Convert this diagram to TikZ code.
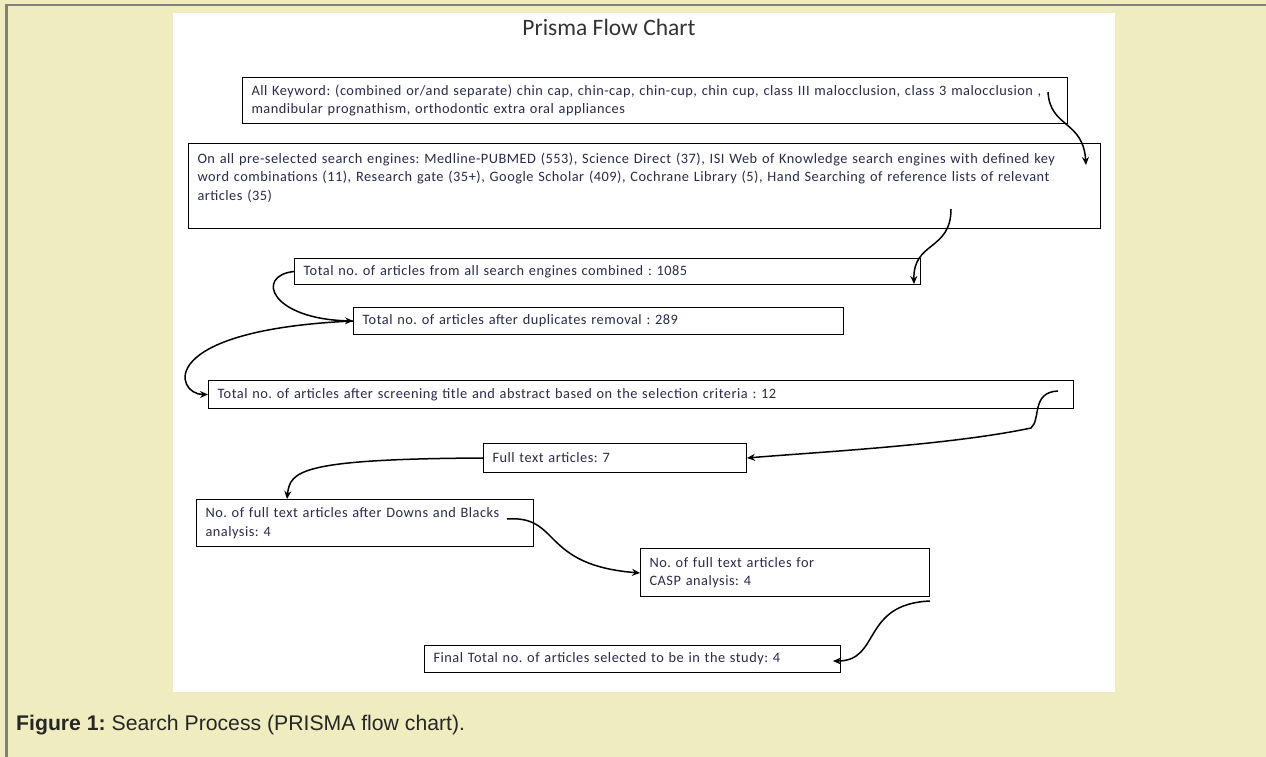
\documentclass[tikz,border=0pt]{standalone}
\usepackage{fontspec}
\setmainfont{Carlito}
\newfontfamily\boxfont{Carlito}[LetterSpace=3.5]
\newfontfamily\capfont{Liberation Sans}
\usetikzlibrary{arrows.meta}
\definecolor{bgbeige}{RGB}{239,237,192}
\definecolor{frameGray}{RGB}{128,128,120}
\definecolor{txtc}{RGB}{40,44,72}
\frenchspacing
\begin{document}
\begin{tikzpicture}[x=1pt,y=-1pt,
  box/.style={draw=black, line width=1pt, anchor=north west, align=left,
    inner xsep=9pt, inner ysep=0pt, font=\boxfont\fontsize{14.35}{18.5}\selectfont, text=txtc},
  arr/.style={line width=1.5pt, -{Stealth[length=8pt,width=7pt]}}]
\fill[bgbeige] (0,0) rectangle (1266,757);
\useasboundingbox (0,0) rectangle (1266,757);
\fill[frameGray] (5,4) rectangle (1266,6.5);
\fill[frameGray] (5,4) rectangle (7.5,757);
\fill[white] (173,13) rectangle (1115,692);

\node[font=\fontsize{23.5}{28}\selectfont, text=black!80] (title) at (609,27) {Prisma Flow Chart};

\node[box, minimum width=825pt, minimum height=46pt, text width=807pt] (b1) at (242,77)
 {All Keyword: (combined or/and separate) chin cap, chin-cap, chin-cup, chin cup, class III malocclusion, class 3 malocclusion ,\\
  mandibular prognathism, orthodontic extra oral appliances};
\node[box, minimum width=912pt, minimum height=85pt, text width=894pt] (b2) at (188,143)
 {On all pre-selected search engines: Medline-PUBMED (553), Science Direct (37), ISI Web of Knowledge search engines with defined key\\
  word combinations (11), Research gate (35+), Google Scholar (409), Cochrane Library (5), Hand Searching of reference lists of relevant\\
  articles (35)\\ \mbox{}};
\node[box, minimum width=626pt, minimum height=26pt, text width=608pt] (b3) at (294,258)
 {Total no. of articles from all search engines combined : 1085};
\node[box, minimum width=490pt, minimum height=27pt, text width=472pt] (b4) at (353,307)
 {Total no. of articles after duplicates removal : 289};
\node[box, minimum width=865pt, minimum height=28pt, text width=847pt] (b5) at (208,380)
 {Total no. of articles after screening title and abstract based on the selection criteria : 12};
\node[box, minimum width=263pt, minimum height=29pt, text width=245pt] (b6) at (483,443)
 {Full text articles: 7};
\node[box, minimum width=337pt, minimum height=47pt, text width=319pt] (b7) at (196,499)
 {No. of full text articles after Downs and Blacks\\analysis: 4};
\node[box, minimum width=289pt, minimum height=48pt, text width=271pt] (b8) at (640,548)
 {No. of full text articles for\\CASP analysis: 4};
\node[box, minimum width=416pt, minimum height=27pt, text width=398pt] (b9) at (424,645)
 {Final Total no. of articles selected to be in the study: 4};

\coordinate (s1) at ([shift={(-20,15)}]b1.north east);
\coordinate (e1) at ([shift={(-15,22)}]b2.north east);
\coordinate (s2) at ([shift={(-150,-20)}]b2.south east);
\coordinate (e2) at ([shift={(-7,-1)}]b3.south east);
\coordinate (s5) at ([shift={(-16,11)}]b5.north east);
\coordinate (s7) at ([shift={(-27,20)}]b7.north east);
\coordinate (e7) at ([shift={(0,25)}]b8.north west);
\coordinate (s8) at ([shift={(0,4)}]b8.south east);
\coordinate (e8) at ([shift={(-8,2)}]b9.east);

\draw[arr] (s1) .. controls ++(2,36) and ++(-3,-45) .. (e1);
\draw[arr] (s2) .. controls ++(0,42) and ++(-1,-43) .. (e2);
\draw[arr] (b3.west) .. controls ++(-39,4) and ++(-83,-2) .. (b4.west);
\draw[arr] (b4.west) .. controls ++(-200,9) and ++(-33,0) .. (b5.west);
\draw[arr] (s5) .. controls ++(-27,1) and ++(10,-8) .. ++(-27,37) .. controls ++(-80,17) and ++(72,-6) .. (b6.east);
\draw[arr] (b6.west) .. controls ++(-183,1) and ++(3,-28) .. (b7.north -| 287,0);
\draw[arr] (s7) .. controls ++(54,-4) and ++(-100,-8) .. (e7);
\draw[arr] (s8) .. controls ++(-69,3) and ++(48,0) .. (e8);

\node[anchor=west, font=\capfont\fontsize{21.2}{24}\selectfont, text=black!85, inner sep=0pt] (cap) at (16,725)
 {\textbf{Figure 1:} Search Process (PRISMA flow chart).};
\end{tikzpicture}
\end{document}
